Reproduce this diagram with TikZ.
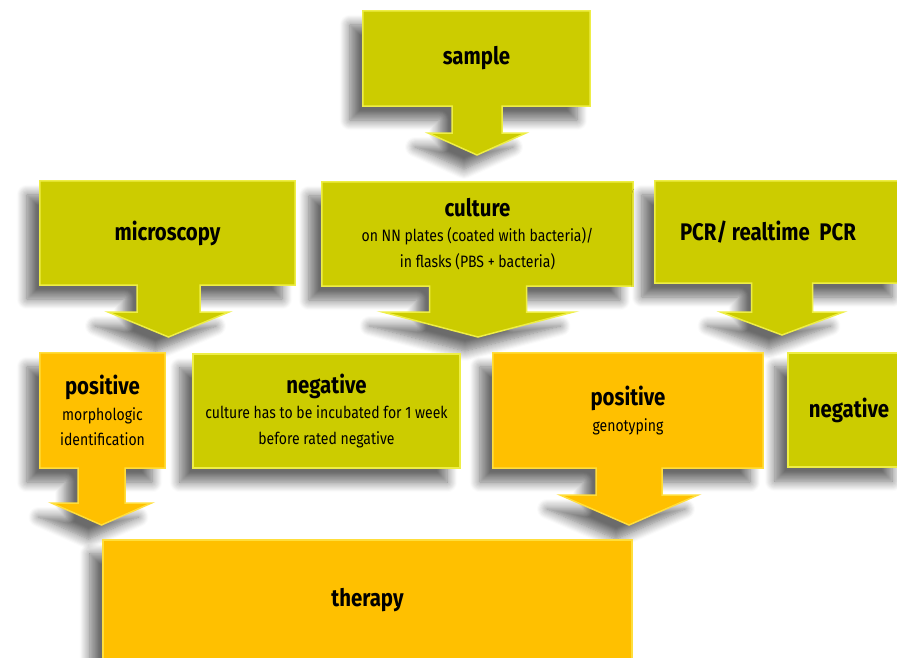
\documentclass[tikz,border=0pt]{standalone}
\usepackage{fontspec}
\setmainfont{Fira Sans}[FakeStretch=0.85]
\usetikzlibrary{shadows.blur}
\pgfdeclarelayer{bg}
\pgfsetlayers{bg,main}
\definecolor{boxgreen}{RGB}{204,204,0}
\definecolor{boxorange}{RGB}{255,192,0}
\definecolor{edgegreen}{RGB}{238,238,70}
\definecolor{edgeorange}{RGB}{255,222,60}
\tikzset{
    gbox/.style={fill=boxgreen, draw=edgegreen, line width=1.5pt,
        blur shadow={shadow xshift=-13pt, shadow yshift=-14pt,
            shadow blur radius=10pt, shadow blur steps=10, shadow opacity=58}},
    obox/.style={gbox, fill=boxorange, draw=edgeorange},
    lbl/.style={align=center, inner sep=0pt,
        font=\fontsize{16.5}{25.5}\selectfont}
}
% #1 style, #2 box node, #3 arrow middle, #4 half stem, #5 stem end,
% #6 half head, #7 tip
\newcommand\callout[7]{%
    \begin{pgfonlayer}{bg}
    \filldraw[#1] (#2.north west)--(#2.north east)--(#2.south east)
        --({#3+#4},0 |- #2.south)--({#3+#4},#5)--({#3+#6},#5)--(#3,#7)
        --({#3-#6},#5)--({#3-#4},#5)--({#3-#4},0 |- #2.south)
        --(#2.south west)--cycle;
    \end{pgfonlayer}}
\newcommand\plainbox[2]{%
    \begin{pgfonlayer}{bg}
    \filldraw[#1] (#2.north west) rectangle (#2.south east);
    \end{pgfonlayer}}
\newcommand\ttl[1]{{\bfseries\fontsize{24}{25.5}\selectfont #1}}
\begin{document}
\begin{tikzpicture}[x=1pt, y=-1pt]
    \useasboundingbox (0,0) rectangle (897,657);
    \clip (0,0) rectangle (897,657);

    % first row
    \node[lbl, minimum width=227, minimum height=95] (sample) at (476.5,58.5) {\ttl{sample}};
    \callout{gbox}{sample}{477}{25}{133}{49}{155}

    \node[lbl, minimum width=255, minimum height=104] (micro) at (167.5,233) {\ttl{microscopy}};
    \node[lbl, minimum width=311, minimum height=104] (culture) at (477.5,234)
        {\ttl{culture}\\on NN plates (coated with bacteria)/\\in flasks (PBS + bacteria)};
    % box runs past the right edge, text sits left of its middle
    \node[lbl, minimum width=250, minimum height=102] (pcr) at (780,232)
        {\ttl{PCR/ realtime\ \ PCR}\hspace*{24pt}};
    \callout{gbox}{micro}{168.5}{31.5}{312}{60.5}{337}
    \callout{gbox}{culture}{478}{48.5}{312}{95.5}{337}
    \callout{gbox}{pcr}{782}{30.5}{312}{61.5}{335}

    % second row
    \node[lbl, minimum width=125, minimum height=115] (posa) at (102.5,410.5)
        {\ttl{positive}\\morphologic\\identification};
    \node[lbl, minimum width=267, minimum height=114] (nega) at (326.5,411)
        {\ttl{negative}\\culture has to be incubated for 1 week\\before rated negative};
    \node[lbl, minimum width=270, minimum height=115] (posb) at (628,410.5)
        {\ttl{positive}\\genotyping};
    \node[lbl, minimum width=117, minimum height=114] (negb) at (846.5,410)
        {\ttl{negative}\hspace*{-5pt}};
    \callout{obox}{posa}{101.5}{23.5}{503}{50}{525}
    \plainbox{gbox}{nega}
    \callout{obox}{posb}{629}{33}{495}{69}{525}
    \plainbox{gbox}{negb}

    % last row
    \node[lbl, minimum width=529, minimum height=120] (therapy) at (367.5,600) {\ttl{therapy}};
    \plainbox{obox}{therapy}
\end{tikzpicture}
\end{document}
